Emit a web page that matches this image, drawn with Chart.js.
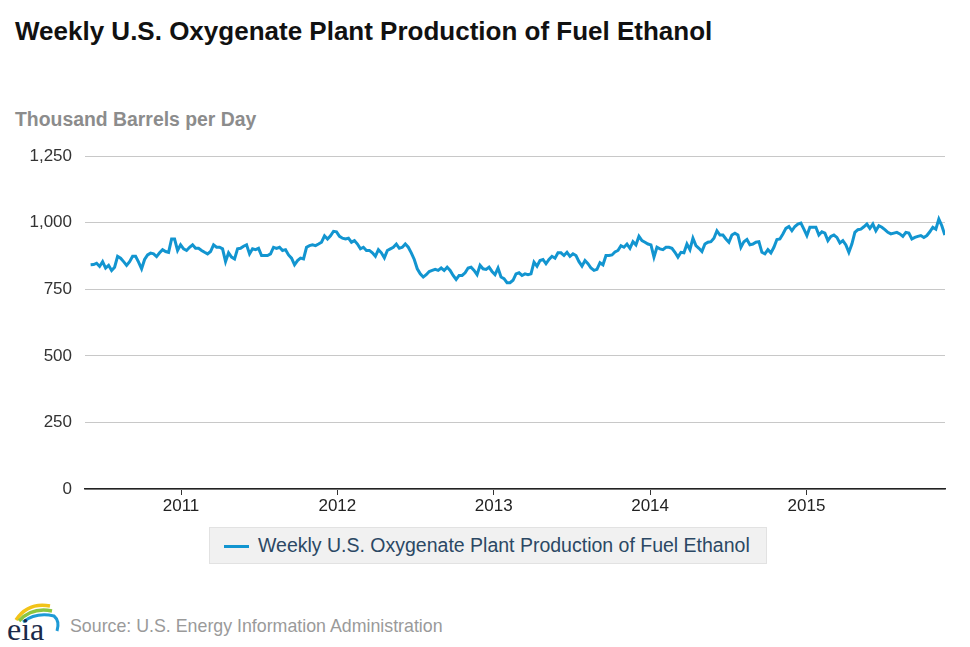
<!DOCTYPE html>
<html>
<head>
<meta charset="utf-8">
<script src="https://cdn.jsdelivr.net/npm/chart.js@4.4.1/dist/chart.umd.min.js"></script>
<style>
    body { margin: 0; background: #fff; font-family: "Liberation Sans", Arial, sans-serif; }
    #page { position: relative; width: 970px; height: 647px; overflow: hidden; }
    #title { position: absolute; left: 15px; top: 16px; font-size: 26px; font-weight: bold; color: #111; }
    #units { position: absolute; left: 15px; top: 108px; font-size: 19.4px; font-weight: bold; color: #8c8c8c; }
    #chartBox { position: absolute; left: 0; top: 133px; width: 970px; height: 387px; }
    #legend { position: absolute; left: 209px; top: 527px; width: 558px; height: 37px; background: #f1f1f1; border: 1px solid #e2e2e2; box-sizing: border-box; }
    #legend .swatch { position: absolute; left: 14px; top: 17px; width: 25px; height: 3px; background: #1295d0; }
    #legend .label { position: absolute; left: 48px; top: 6px; font-size: 19.5px; color: #2b4864; white-space: nowrap; }
    #source { position: absolute; left: 70px; top: 616px; font-size: 17.8px; color: #9a9a9a; }
    #logo { position: absolute; left: 4px; top: 598px; }
</style>
</head>
<body>
<div id="page">
    <div id="title">Weekly U.S. Oxygenate Plant Production of Fuel Ethanol</div>
    <div id="units">Thousand Barrels per Day</div>
    <div id="chartBox"><canvas id="lineChart" width="970" height="387"></canvas></div>
    <div id="legend"><span class="swatch"></span><span class="label">Weekly U.S. Oxygenate Plant Production of Fuel Ethanol</span></div>
    <svg id="logo" width="62" height="46" viewBox="0 0 62 46">
        <path d="M12 22 Q24 4 46 8" stroke="#f2c318" stroke-width="3.5" fill="none"/>
        <path d="M15 23 Q28 9 48 13" stroke="#8cc63f" stroke-width="3.5" fill="none"/>
        <path d="M19 24 Q32 14 50 18 Q56 23 53 33" stroke="#1d9ad6" stroke-width="3" fill="none"/>
        <text x="3" y="42" font-family="Liberation Serif, serif" font-size="32" fill="#1a2a4a">eia</text>
    </svg>
    <div id="source">Source: U.S. Energy Information Administration</div>
</div>
<script>
    // First week in the series and weekly values (thousand barrels per day)
    const startDate = '2010-06-04';
    const ethanolValues = [
        842, 843, 848, 836, 854, 830, 840, 821, 833, 874, 867, 854, 840, 854, 874, 874, 852, 827, 862, 879,
        886, 883, 873, 887, 899, 892, 889, 939, 939, 896, 917, 902, 896, 908, 917, 904,
        904, 896, 889, 883, 892, 917, 908, 908, 902, 854, 887, 871, 864, 902, 904, 912, 917, 883, 902, 899,
        904, 877, 877, 877, 883, 908, 904, 908, 896, 899, 879, 867, 842, 858, 867,
        864, 908, 914, 917, 914, 920, 927, 951, 939, 951, 968, 966, 949, 942, 939, 942, 927, 933, 920, 902,
        908, 896, 896, 887, 874, 899, 887, 868, 896, 902, 908, 920, 904, 908, 920,
        908, 887, 862, 827, 808, 796, 805, 817, 821, 825, 821, 830, 821, 833, 821, 802, 787, 802, 802, 812,
        830, 833, 821, 805, 840, 827, 825, 833, 817, 805, 830, 796, 790, 775, 775, 784,
        808, 812, 802, 808, 805, 808, 852, 837, 858, 862, 846, 862, 874, 867, 887, 887, 877, 889, 874, 883,
        877, 854, 837, 858, 846, 830, 821, 825, 850, 842, 877, 877, 879, 890,
        896, 914, 908, 920, 904, 929, 917, 949, 933, 927, 920, 917, 871, 908, 902, 899, 908, 908, 904, 889,
        871, 889, 887, 920, 899, 942, 914, 904, 892, 920, 927, 929, 942, 970, 954,
        954, 939, 927, 954, 961, 954, 908, 929, 937, 917, 920, 927, 929, 889, 883, 899, 887, 908, 937, 939,
        958, 979, 986, 970, 986, 995, 999, 976, 952, 983, 983, 983, 954, 966, 961,
        933, 949, 954, 945, 924, 933, 917, 889, 920, 964, 974, 976, 985, 995, 979, 995, 970, 989, 983, 974,
        964, 958, 961, 964, 958, 949, 964, 961, 939, 945, 949, 952, 945, 952, 966, 983, 976, 1014, 989, 954
    ];
    const yearTicks = [2011, 2012, 2013, 2014, 2015];
    const yTicks = [0, 250, 500, 750, 1000, 1250];

    const toDecimalYear = (d) => {
        const y = d.getUTCFullYear();
        const start = Date.UTC(y, 0, 1);
        const end = Date.UTC(y + 1, 0, 1);
        return y + (d.getTime() - start) / (end - start);
    };

    const weekDates = ethanolValues.map((v, i) => {
        const d = new Date(startDate + 'T00:00:00Z');
        d.setUTCDate(d.getUTCDate() + 7 * i);
        return d;
    });
    const points = ethanolValues.map((v, i) => ({ x: toDecimalYear(weekDates[i]), y: v }));

    const ctx = document.getElementById('lineChart').getContext('2d');
    new Chart(ctx, {
        type: 'line',
        data: {
            datasets: [{
                label: 'Weekly U.S. Oxygenate Plant Production of Fuel Ethanol',
                data: points,
                borderColor: '#1295d0',
                borderWidth: 3,
                pointRadius: 0,
                fill: false,
                tension: 0
            }]
        },
        options: {
            responsive: false,
            animation: false,
            layout: { padding: { top: 8, right: 25, left: 0, bottom: 0 } },
            plugins: { legend: { display: false }, tooltip: { enabled: false } },
            scales: {
                x: {
                    type: 'linear',
                    min: 2010.386,
                    max: 2015.886,
                    afterBuildTicks: (scale) => { scale.ticks = yearTicks.map(v => ({ value: v })); },
                    afterFit: (scale) => { scale.height = 31; },
                    grid: { drawOnChartArea: false, drawTicks: true, tickLength: 6, color: '#333' },
                    border: { color: '#222', width: 1.5 },
                    ticks: {
                        color: '#222',
                        font: { family: 'Liberation Sans', size: 17 },
                        padding: 1,
                        maxRotation: 0,
                        callback: (v) => String(v)
                    }
                },
                y: {
                    min: 0,
                    max: 1250,
                    afterBuildTicks: (scale) => { scale.ticks = yTicks.map(v => ({ value: v })); },
                    afterFit: (scale) => { scale.width = 85; },
                    grid: { color: '#c8c8c8', lineWidth: 1, drawTicks: false },
                    border: { display: false },
                    ticks: {
                        color: '#333',
                        font: { family: 'Liberation Sans', size: 17 },
                        padding: 13,
                        callback: (v) => v.toLocaleString('en-US')
                    }
                }
            }
        }
    });
</script>
</body>
</html>
